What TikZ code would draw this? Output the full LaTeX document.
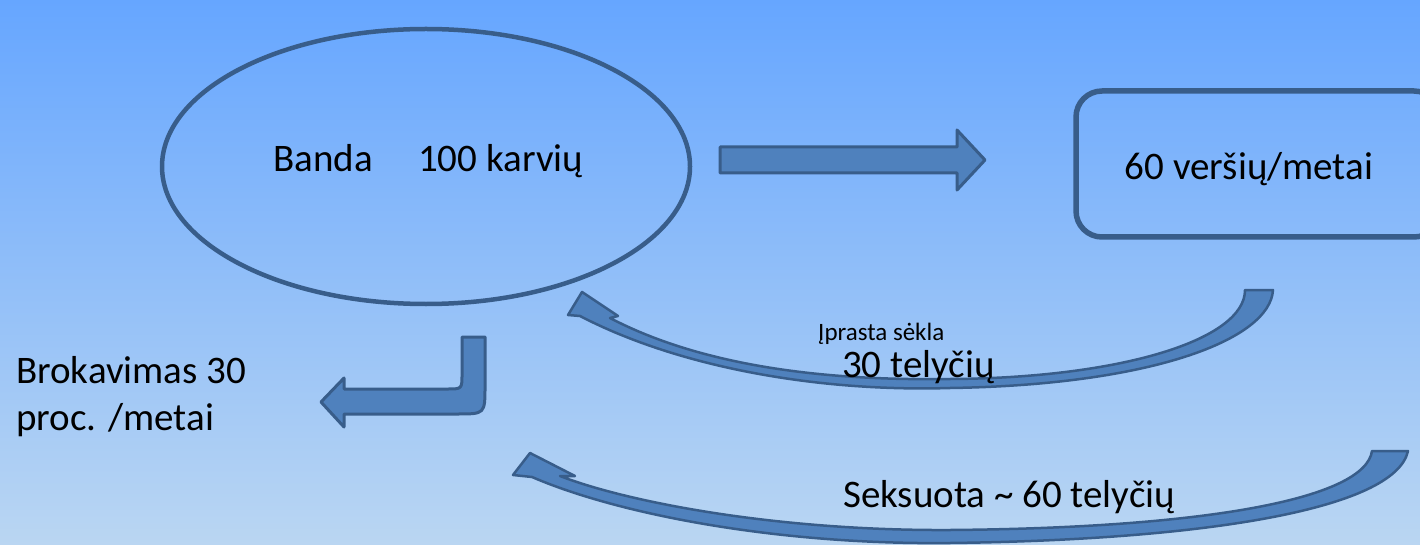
\documentclass[tikz,border=0pt]{standalone}
\usepackage{fontspec}
\setmainfont{Carlito}
\usetikzlibrary{shapes.geometric,positioning}
\definecolor{bgtop}{RGB}{102,166,255}
\definecolor{bgbot}{RGB}{186,214,242}
\definecolor{arrowfill}{RGB}{79,129,189}
\definecolor{arrowline}{RGB}{56,93,138}
\tikzset{
  blockarrow/.style={fill=arrowfill, draw=arrowline, line width=3pt, line join=round},
  bigtext/.style={font=\fontsize{39}{47}\selectfont, inner sep=0pt, anchor=base west},
  smalltext/.style={font=\fontsize{25}{30}\selectfont, inner sep=0pt, anchor=base west}
}

\begin{document}
\begin{tikzpicture}[x=1pt,y=-1pt]
	\useasboundingbox (0,0) rectangle (1420,545);
	\clip (0,0) rectangle (1420,545);
	\shade[top color=bgtop, bottom color=bgbot] (0,0) rectangle (1420,545);
	% herd and calves
	\node[draw=arrowline, line width=4.5pt, ellipse, inner sep=0pt, minimum width=528pt, minimum height=275pt] (herd) at (426,166.5) {};
	\draw[draw=arrowline, line width=5.5pt, rounded corners=26pt] (1076,91) rectangle (1440,237);
	\coordinate (calves) at (1249,164);
	% arrow herd -> calves
	\draw[blockarrow] (720,147) -- (957,147) -- (957,130) -- (985,160) -- (957,190) -- (957,173) -- (720,173) -- cycle;
	% culling arrow
	\draw[blockarrow] (462,337) -- (485,337) -- (485,386) .. controls (485,414) .. (457,414) -- (344,414) -- (344,427) -- (321,402) -- (344,378) -- (344,389) -- (447,389) .. controls (462,389) .. (462,374) -- cycle;
	% conventional semen
	\draw[blockarrow, line width=2.5pt] (1245,290) -- (1273,290)
		.. controls (1270,340) and (1150,385) .. (950,388)
		.. controls (820,392) and (680,368) .. (580,316)
		-- (568,315) -- (582,292) -- (618,316) -- (610,318)
		.. controls (700,365) and (820,381) .. (950,379)
		.. controls (1120,378) and (1245,340) .. cycle;
	% sexed semen
	\draw[blockarrow, line width=2.5pt] (1372,451) -- (1408,451)
		.. controls (1395,510) and (1200,540) .. (950,543)
		.. controls (780,545) and (620,515) .. (532,477)
		-- (513,475) -- (530,453) -- (575,476) -- (560,476)
		.. controls (630,503) and (780,531) .. (950,530)
		.. controls (1200,528) and (1365,500) .. cycle;
	% texts
	\node[bigtext] (banda) at (273,172) {Banda};
	\node[bigtext] (karves) at (418,172) {100 karvių};
	\node[bigtext, anchor=base] (versiai) at (1249,180) {60 veršių/metai};
	\node[bigtext, align=left, anchor=base west] (brok) at (16,430) {Brokavimas 30\\proc. /metai};
	\node[smalltext] (iprasta) at (818,340) {Įprasta sėkla};
	\node[bigtext] (telycios) at (842,377) {30 telyčių};
	\node[bigtext] (seksuota) at (843,507) {Seksuota \textasciitilde{} 60 telyčių};
\end{tikzpicture}
\end{document}
